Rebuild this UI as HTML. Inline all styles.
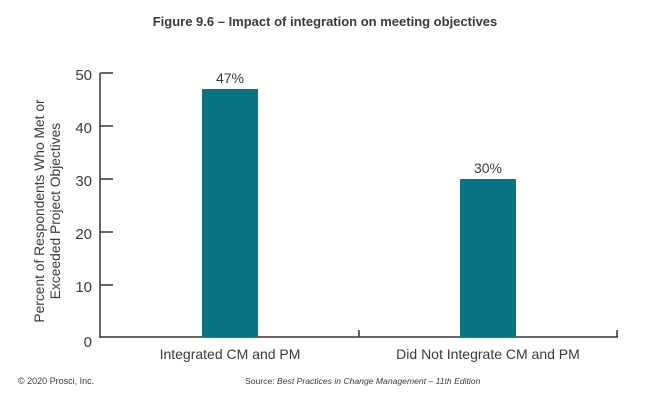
<!DOCTYPE html>
<html><head><style>
body{margin:0;background:#fff;}
svg text{font-family:"Liberation Sans",sans-serif;fill:#3a3a3a;}
</style></head><body>
<svg width="650" height="400" xmlns="http://www.w3.org/2000/svg">
<text x="325" y="26" font-size="13" font-weight="bold" text-anchor="middle" fill="#444">Figure 9.6 – Impact of integration on meeting objectives</text>
<g stroke="#333" stroke-width="1.5" fill="none">
<line x1="100" y1="73" x2="100" y2="338"/>
<line x1="100" y1="337" x2="618" y2="337"/>
<line x1="100" y1="73" x2="113" y2="73"/>
<line x1="100" y1="126" x2="113" y2="126"/>
<line x1="100" y1="179" x2="113" y2="179"/>
<line x1="100" y1="232" x2="113" y2="232"/>
<line x1="100" y1="285" x2="113" y2="285"/>
<line x1="359" y1="330" x2="359" y2="337"/>
<line x1="617" y1="330" x2="617" y2="337"/>
</g>
<rect x="202" y="89" width="56" height="248" fill="#0a7382"/>
<rect x="460" y="179" width="56" height="158" fill="#0a7382"/>
<g font-size="15" text-anchor="end">
<text x="92" y="80">50</text><text x="92" y="133">40</text><text x="92" y="186">30</text>
<text x="92" y="239">20</text><text x="92" y="292">10</text><text x="92" y="347">0</text>
</g>
<text x="230" y="83" font-size="14" text-anchor="middle">47%</text>
<text x="488" y="173" font-size="14" text-anchor="middle">30%</text>
<text x="230" y="359" font-size="14" text-anchor="middle">Integrated CM and PM</text>
<text x="488" y="359" font-size="14" text-anchor="middle">Did Not Integrate CM and PM</text>
<g transform="translate(44,211) rotate(-90)" font-size="13.8" text-anchor="middle">
<text x="0" y="0">Percent of Respondents Who Met or</text>
<text x="0" y="16">Exceeded Project Objectives</text>
</g>
<text x="18" y="384" font-size="9">© 2020 Prosci, Inc.</text>
<text x="245" y="384" font-size="8.6">Source: <tspan font-style="italic">Best Practices in Change Management – 11th Edition</tspan></text>
</svg>
</body></html>
